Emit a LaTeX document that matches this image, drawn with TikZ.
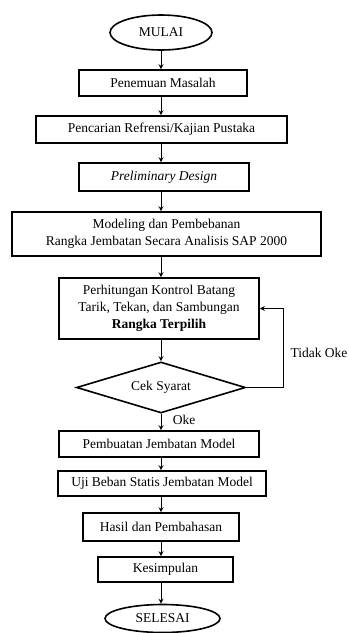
\documentclass[tikz,border=0pt]{standalone}
\usepackage{fontspec}
\setmainfont{Liberation Serif}
\usetikzlibrary{shapes.geometric,arrows.meta}

\begin{document}
\begin{tikzpicture}[x=1pt,y=-1pt,
  font=\fontsize{13.5}{17}\selectfont,
  kotak/.style={draw,line width=1.6pt,rectangle,inner sep=0pt,align=center},
  oval/.style={draw,line width=1.6pt,ellipse,inner sep=0pt},
  cek/.style={draw,line width=1.6pt,diamond,aspect=3.3,inner sep=0pt},
  panah/.style={line width=0.9pt,-{Stealth[length=5pt,width=5pt]}}]
\useasboundingbox (0,0) rectangle (350,633);
\coordinate (axis) at (161,0);

\node[oval,minimum width=102pt,minimum height=35pt] (mulai) at (161,32.5) {MULAI};
\node[kotak,minimum width=168pt,minimum height=26pt] (penemuan) at (163,83) {Penemuan Masalah};
\node[kotak,minimum width=251pt,minimum height=27pt] (pencarian) at (161.5,129.5) {Pencarian Refrensi/Kajian Pustaka};
\node[kotak,minimum width=170pt,minimum height=28pt] (prelim) at (164,177) {\itshape Preliminary Design};
\node[kotak,minimum width=309pt,minimum height=44pt] (modeling) at (166.5,234)
  {Modeling dan Pembebanan\\Rangka Jembatan Secara Analisis SAP 2000};
\node[kotak,minimum width=200pt,minimum height=61pt] (hitung) at (159,308.5)
  {Perhitungan Kontrol Batang\\Tarik, Tekan, dan Sambungan\\\textbf{Rangka Terpilih}};
\node[cek,minimum width=169pt,minimum height=51pt] (syarat) at (161,387.5) {Cek Syarat};
\node[kotak,minimum width=200pt,minimum height=26pt] (pembuatan) at (159,444) {Pembuatan Jembatan Model};
\node[kotak,minimum width=208pt,minimum height=25pt] (uji) at (162,483.5) {Uji Beban Statis Jembatan Model};
\node[kotak,minimum width=156pt,minimum height=28pt] (hasil) at (161,527) {Hasil dan Pembahasan};
\node[kotak,minimum width=135pt,minimum height=25pt] (simpul) at (165.5,569.5) {Kesimpulan};
\node[oval,minimum width=115pt,minimum height=28pt] (selesai) at (162.5,618.5) {SELESAI};

\draw[panah] (mulai.south -| axis) -- (penemuan.north -| axis);
\draw[panah] (penemuan.south -| axis) -- (pencarian.north -| axis);
\draw[panah] (pencarian.south -| axis) -- (prelim.north -| axis);
\draw[panah] (prelim.south -| axis) -- (modeling.north -| axis);
\draw[panah] (modeling.south -| axis) -- (hitung.north -| axis);
\draw[panah] (hitung.south -| axis) -- (syarat.north);
\draw[panah] (syarat.south) -- (pembuatan.north -| axis);
\draw[panah] (pembuatan.south -| axis) -- (uji.north -| axis);
\draw[panah] (uji.south -| axis) -- (hasil.north -| axis);
\draw[panah] (hasil.south -| axis) -- (simpul.north -| axis);
\draw[panah] (simpul.south -| axis) -- (selesai.north -| axis);

% jalur tidak oke
\coordinate (balik) at (283,387.5);
\draw[panah] (syarat.east) -- (balik) |- (hitung.east);
\node (tidak) at (319,353) {Tidak Oke};
\node (oke) at (184,420) {Oke};
\end{tikzpicture}
\end{document}
